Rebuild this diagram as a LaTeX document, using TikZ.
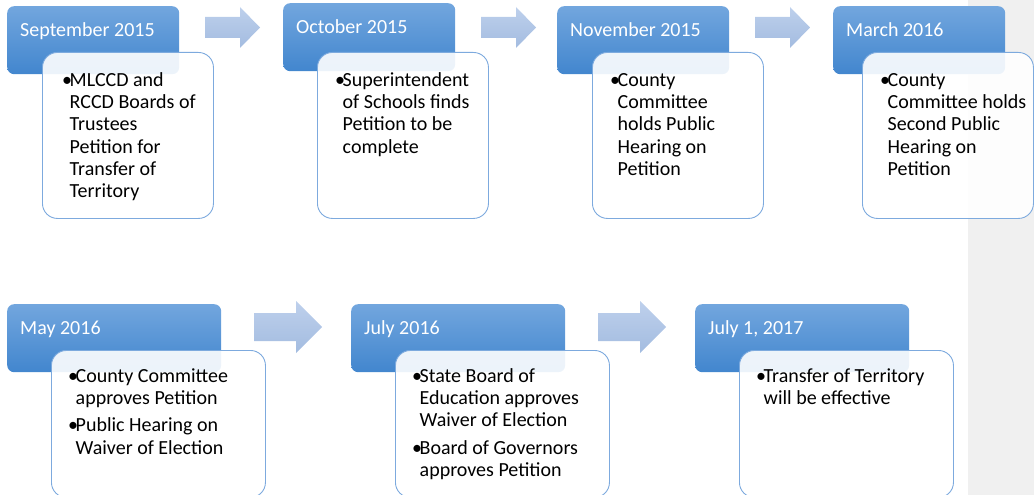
\documentclass[tikz,border=0pt]{standalone}
\usepackage{fontspec}
\setmainfont{Carlito}
\usetikzlibrary{calc}

\definecolor{headtop}{RGB}{114,166,222}
\definecolor{headbot}{RGB}{66,134,206}
\definecolor{bodyline}{RGB}{125,170,222}
\definecolor{arrtop}{RGB}{190,208,236}
\definecolor{arrbot}{RGB}{163,188,224}
\definecolor{sidegray}{RGB}{240,240,240}

% bullet list set from its first baseline
\newcommand{\steplist}[1]{\begin{tabular}[t]{@{}l@{}l@{}}#1\end{tabular}}
\newcommand{\bul}{\makebox[7.5pt][l]{\textbullet}}

\begin{document}
\begin{tikzpicture}[x=1pt,y=-1pt,
    headbox/.style={rectangle, rounded corners=7pt, top color=headtop,
        bottom color=headbot, anchor=north west, minimum height=68pt, inner sep=0pt},
    bodybox/.style={rectangle, rounded corners=15pt, draw=bodyline, line width=0.9pt,
        fill=white, fill opacity=0.9, anchor=north west, inner sep=0pt},
    headtext/.style={anchor=base west, text=white, inner sep=0pt,
        font=\fontsize{20}{22.4}\selectfont},
    bodytext/.style={anchor=base west, inner sep=0pt,
        font=\fontsize{20}{22.4}\selectfont},
    arrow/.style={top color=arrtop, bottom color=arrbot}]

    \useasboundingbox (0,0) rectangle (1034,495);
    \fill[sidegray] (968,0) rectangle (1034,495);

    % arrows between the steps
    \foreach \ax in {205,481,755}
        \shade[arrow] (\ax,17) -- ++(35,0) -- ++(0,-10) -- ++(20,20.5)
            -- ++(-20,20.5) -- ++(0,-10) -- ++(-35,0) -- cycle;
    \foreach \ax in {254,598}
        \shade[arrow] (\ax,313) -- ++(42,0) -- ++(0,-12) -- ++(26,26)
            -- ++(-26,26) -- ++(0,-12) -- ++(-42,0) -- cycle;

    % top row
    \node[headbox, minimum width=172pt] (h1) at (7,6) {};
    \node[headbox, minimum width=172pt] (h2) at (283,3) {};
    \node[headbox, minimum width=172pt] (h3) at (557,6) {};
    \node[headbox, minimum width=172pt] (h4) at (833,6) {};
    \node[headtext] (h1t) at ($(h1.north west)+(13,31)$) {September 2015};
    \node[headtext] (h2t) at ($(h2.north west)+(13,31)$) {October 2015};
    \node[headtext] (h3t) at ($(h3.north west)+(13,31)$) {November 2015};
    \node[headtext] (h4t) at ($(h4.north west)+(13,31)$) {March 2016};

    \node[bodybox, minimum width=171pt, minimum height=166pt] (b1) at (42,52) {};
    \node[bodybox, minimum width=171pt, minimum height=166pt] (b2) at (317,52) {};
    \node[bodybox, minimum width=171pt, minimum height=166pt] (b3) at (592,52) {};
    \node[bodybox, minimum width=171pt, minimum height=166pt] (b4) at (862,52) {};
    \node[bodytext] (b1t) at ($(b1.north west)+(20,34)$) {\steplist{\bul & MLCCD and\\
        & RCCD Boards of\\ & Trustees\\ & Petition for\\ & Transfer of\\ & Territory}};
    \node[bodytext] (b2t) at ($(b2.north west)+(18,34)$) {\steplist{\bul & Superintendent\\
        & of Schools finds\\ & Petition to be\\ & complete}};
    \node[bodytext] (b3t) at ($(b3.north west)+(18,34)$) {\steplist{\bul & County\\
        & Committee\\ & holds Public\\ & Hearing on\\ & Petition}};
    \node[bodytext] (b4t) at ($(b4.north west)+(18,34)$) {\steplist{\bul & County\\
        & Committee holds\\ & Second Public\\ & Hearing on\\ & Petition}};

    % bottom row
    \node[headbox, minimum width=214pt] (h5) at (7,304) {};
    \node[headbox, minimum width=214pt] (h6) at (351,304) {};
    \node[headbox, minimum width=214pt] (h7) at (695,304) {};
    \node[headtext] (h5t) at ($(h5.north west)+(13,30)$) {May 2016};
    \node[headtext] (h6t) at ($(h6.north west)+(13,30)$) {July 2016};
    \node[headtext] (h7t) at ($(h7.north west)+(13,30)$) {July 1, 2017};

    \node[bodybox, minimum width=214pt, minimum height=147pt] (b5) at (51,350) {};
    \node[bodybox, minimum width=214pt, minimum height=147pt] (b6) at (395,350) {};
    \node[bodybox, minimum width=214pt, minimum height=147pt] (b7) at (739,350) {};
    \node[bodytext] (b5t) at ($(b5.north west)+(17,32)$) {\steplist{\bul & County Committee\\
        & approves Petition\\[5pt] \bul & Public Hearing on\\ & Waiver of Election}};
    \node[bodytext] (b6t) at ($(b6.north west)+(17,32)$) {\steplist{\bul & State Board of\\
        & Education approves\\ & Waiver of Election\\[5pt]
        \bul & Board of Governors\\ & approves Petition}};
    \node[bodytext] (b7t) at ($(b7.north west)+(17,32)$) {\steplist{\bul & Transfer of Territory\\
        & will be effective}};

\end{tikzpicture}
\end{document}
